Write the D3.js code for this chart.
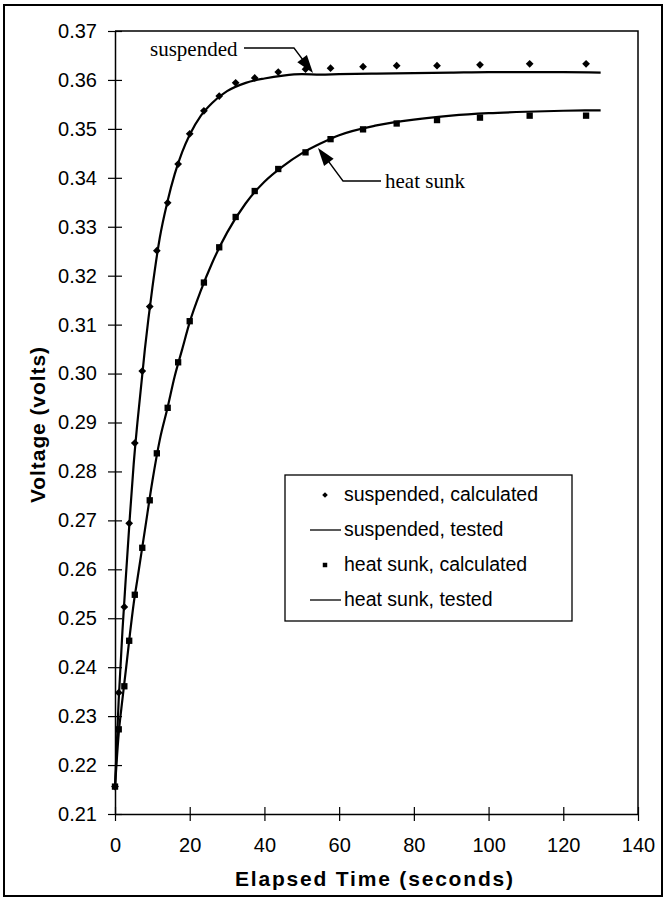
<!DOCTYPE html>
<html>
<head>
<meta charset="utf-8">
<script src="https://cdn.jsdelivr.net/npm/d3@7"></script>
<style>
  html, body { margin: 0; padding: 0; background: #fff; }
  svg { display: block; }
</style>
</head>
<body>
<svg id="chart" width="665" height="898"></svg>
<script>
// ---- data ----
const calcTimes = [0, 1, 2.5, 3.8, 5.3, 7.3, 9.3, 11.2, 14.1, 16.9, 20, 23.8, 27.9, 32.3, 37.4, 43.7, 51, 57.7, 66.4, 75.4, 86.2, 97.7, 111, 126.1];
const suspendedCalc = [0.2156, 0.2348, 0.2523, 0.2694, 0.2858, 0.3005, 0.3137, 0.3251, 0.3349, 0.3428, 0.3490, 0.3537, 0.3567, 0.3594, 0.3604, 0.3616, 0.3622, 0.3624, 0.3627, 0.3629, 0.3629, 0.3631, 0.3633, 0.3633];
const heatSunkCalc = [0.2156, 0.2273, 0.2361, 0.2454, 0.2548, 0.2644, 0.2741, 0.2837, 0.2930, 0.3023, 0.3107, 0.3186, 0.3258, 0.3320, 0.3373, 0.3418, 0.3452, 0.3479, 0.3499, 0.3511, 0.3518, 0.3523, 0.3527, 0.3527];

const testTimes = [0, 1, 2, 3, 4, 5, 6, 8, 10, 12, 14, 16, 18, 20, 23, 26, 30, 35, 40, 45, 50, 55, 60, 70, 80, 90, 100, 110, 120, 130];
const suspendedTest = [0.2155, 0.2335, 0.2475, 0.2595, 0.2710, 0.2815, 0.2900, 0.3050, 0.3175, 0.3278, 0.3350, 0.3408, 0.3453, 0.3488, 0.3527, 0.3553, 0.3577, 0.3594, 0.3603, 0.3609, 0.3612, 0.3611, 0.3612, 0.3613, 0.3614, 0.3615, 0.3616, 0.3616, 0.3616, 0.3615];
const heatSunkTest = [0.2155, 0.2265, 0.2335, 0.2400, 0.2468, 0.2530, 0.2580, 0.2680, 0.2780, 0.2865, 0.2928, 0.2995, 0.3050, 0.3105, 0.3170, 0.3226, 0.3288, 0.3348, 0.3392, 0.3424, 0.3450, 0.3470, 0.3487, 0.3507, 0.3519, 0.3527, 0.3532, 0.3535, 0.3537, 0.3538];

const xTicks = [0, 20, 40, 60, 80, 100, 120, 140];
const yTicks = [0.21, 0.22, 0.23, 0.24, 0.25, 0.26, 0.27, 0.28, 0.29, 0.30, 0.31, 0.32, 0.33, 0.34, 0.35, 0.36, 0.37];
const legendLabels = ["suspended, calculated", "suspended, tested", "heat sunk, calculated", "heat sunk, tested"];
const xTitle = "Elapsed Time (seconds)";
const yTitle = "Voltage (volts)";
const annotations = ["suspended", "heat sunk"];

// ---- layout ----
const svg = d3.select("#chart");
const L = 115, R = 638, T = 31, B = 814;
const x = d3.scaleLinear().domain([0, 140]).range([L, R]);
const y = d3.scaleLinear().domain([0.21, 0.37]).range([B, T]);
const sans = "'Liberation Sans', Arial, sans-serif";
const serif = "'Liberation Serif', 'Times New Roman', serif";

// outer frame
svg.append("rect").attr("x", 4).attr("y", 5).attr("width", 658).attr("height", 891)
  .attr("fill", "none").attr("stroke", "#000").attr("stroke-width", 2);

// plot box (top & right)
svg.append("path").attr("d", `M${L},${T}H${R}V${B}`).attr("fill", "none")
  .attr("stroke", "#000").attr("stroke-width", 1.5);

// axes
const yAxis = d3.axisLeft(y).tickValues(yTicks).tickSize(0).tickPadding(18)
  .tickFormat(d3.format(".2f"));
const gy = svg.append("g").attr("transform", `translate(${L},0)`).call(yAxis);
gy.select(".domain").attr("stroke-width", 1.5);
gy.selectAll(".tick text").attr("font-family", sans).attr("font-size", 20).attr("fill", "#000");
gy.selectAll(".tick").append("line").attr("x1", -7).attr("x2", 7).attr("stroke", "#000").attr("stroke-width", 1.2);

const xAxis = d3.axisBottom(x).tickValues(xTicks).tickSize(0).tickPadding(24)
  .tickFormat(d3.format("d"));
const gx = svg.append("g").attr("transform", `translate(0,${B})`).call(xAxis);
gx.select(".domain").attr("stroke-width", 1.5);
gx.selectAll(".tick text").attr("font-family", sans).attr("font-size", 20).attr("fill", "#000");
gx.selectAll(".tick").append("line").attr("y1", -7).attr("y2", 7).attr("stroke", "#000").attr("stroke-width", 1.2);

// axis titles
svg.append("text").attr("x", 374).attr("y", 886).attr("text-anchor", "middle")
  .attr("font-family", sans).attr("font-weight", "bold").attr("font-size", 21)
  .attr("textLength", 278).attr("lengthAdjust", "spacing").text(xTitle);
svg.append("text").attr("transform", "translate(45,425) rotate(-90)").attr("text-anchor", "middle")
  .attr("font-family", sans).attr("font-weight", "bold").attr("font-size", 21)
  .attr("textLength", 156).attr("lengthAdjust", "spacing").text(yTitle);

// tested lines
const line = d3.line().x(d => x(d[0])).y(d => y(d[1])).curve(d3.curveMonotoneX);
svg.append("path").datum(testTimes.map((t, i) => [t, suspendedTest[i]]))
  .attr("d", line).attr("fill", "none").attr("stroke", "#000").attr("stroke-width", 2.2);
svg.append("path").datum(testTimes.map((t, i) => [t, heatSunkTest[i]]))
  .attr("d", line).attr("fill", "none").attr("stroke", "#000").attr("stroke-width", 2.2);

// calculated markers
const diamond = d3.symbol().type(d3.symbolSquare).size(30);
svg.append("g").selectAll("path").data(calcTimes.map((t, i) => [t, suspendedCalc[i]]))
  .join("path").attr("d", diamond)
  .attr("transform", d => `translate(${x(d[0])},${y(d[1])}) rotate(45)`).attr("fill", "#000");
const square = d3.symbol().type(d3.symbolSquare).size(40);
svg.append("g").selectAll("path").data(calcTimes.map((t, i) => [t, heatSunkCalc[i]]))
  .join("path").attr("d", square)
  .attr("transform", d => `translate(${x(d[0])},${y(d[1])})`).attr("fill", "#000");

// annotations
function arrow(points, tip, from) {
  svg.append("path").attr("d", d3.line()(points)).attr("fill", "none")
    .attr("stroke", "#000").attr("stroke-width", 1.3);
  const ang = Math.atan2(tip[1] - from[1], tip[0] - from[0]);
  const len = 18, w = 6;
  const bx = tip[0] - len * Math.cos(ang), by = tip[1] - len * Math.sin(ang);
  const px = -Math.sin(ang) * w, py = Math.cos(ang) * w;
  svg.append("path").attr("d", `M${tip[0]},${tip[1]}L${bx + px},${by + py}L${bx - px},${by - py}Z`).attr("fill", "#000");
}
svg.append("text").attr("x", 150).attr("y", 56).attr("font-family", serif).attr("font-size", 21).text(annotations[0]);
arrow([[244, 48], [294, 48], [306, 64]], [313, 73], [294, 48]);
svg.append("text").attr("x", 385).attr("y", 188).attr("font-family", serif).attr("font-size", 21).text(annotations[1]);
arrow([[381, 181], [343, 181], [326, 158]], [318, 148], [343, 181]);

// legend
const lg = svg.append("g");
lg.append("rect").attr("x", 285).attr("y", 475).attr("width", 287).attr("height", 146)
  .attr("fill", "#fff").attr("stroke", "#000").attr("stroke-width", 1.3);
legendLabels.forEach((lab, i) => {
  const by = 501 + i * 35;
  if (i === 0) {
    lg.append("path").attr("d", d3.symbol().type(d3.symbolSquare).size(16)())
      .attr("transform", `translate(325,${by - 6}) rotate(45)`).attr("fill", "#000");
  } else if (i === 2) {
    lg.append("path").attr("d", d3.symbol().type(d3.symbolSquare).size(20)())
      .attr("transform", `translate(325,${by - 6})`).attr("fill", "#000");
  } else {
    lg.append("line").attr("x1", 310).attr("x2", 341).attr("y1", by - 6).attr("y2", by - 6)
      .attr("stroke", "#000").attr("stroke-width", 1.3);
  }
  lg.append("text").attr("x", 344).attr("y", by).attr("font-family", sans).attr("font-size", 19.5).text(lab);
});
</script>
</body>
</html>
